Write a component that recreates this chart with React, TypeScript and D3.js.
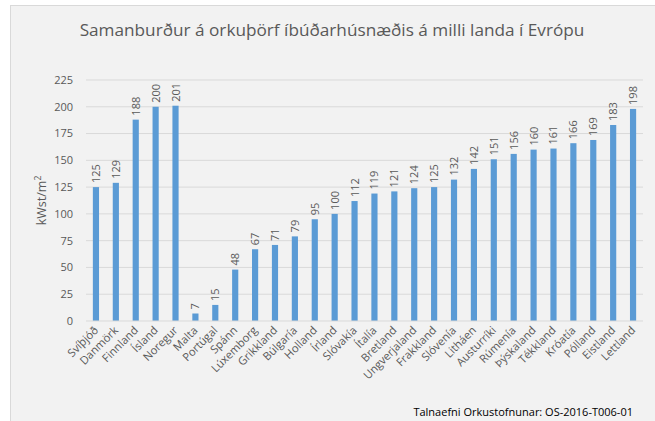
import React from "react";
import * as d3 from "d3";

const countries = ["Svíþjóð","Danmörk","Finnland","Ísland","Noregur","Malta","Portúgal","Spánn","Lúxemborg","Grikkland","Búlgaría","Holland","Írland","Slóvakía","Ítalía","Bretland","Ungverjaland","Frakkland","Slóvenía","Litháen","Austurríki","Rúmenía","Þýskaland","Tékkland","Króatía","Pólland","Eistland","Lettland"];
const values = [125,129,188,200,201,7,15,48,67,71,79,95,100,112,119,121,124,125,132,142,151,156,160,161,166,169,183,198];
const yTicks = [0,25,50,75,100,125,150,175,200,225];
const title = "Samanburður á orkuþörf íbúðarhúsnæðis á milli landa í Evrópu";
const yLabel = "kWst/m";
const source = "Talnaefni Orkustofnunar: OS-2016-T006-01";

export default function App() {
  const W = 655, H = 421;
  const left = 86, right = 643, top = 80, bottom = 321;
  const x = d3.scaleBand<string>().domain(countries).range([left, right]).paddingInner(0.69).paddingOuter(0.345);
  const y = d3.scaleLinear().domain([0, 225]).range([bottom, top]);
  const font = "'Open Sans', 'Noto Sans', sans-serif";
  const txt = "#595959";
  return (
    <svg width={W} height={H} style={{ position: "absolute", left: 0, top: 0 }} fontFamily={font}>
      <rect x={0} y={0} width={W} height={H} fill="#ffffff" />
      <rect x={10.5} y={5.5} width={W} height={H} fill="#f2f2f2" stroke="#d9d9d9" />
      <text x={332} y={36} textAnchor="middle" fontSize={17.2} fill={txt}>{title}</text>
      {yTicks.map(t => (
        <g key={t}>
          {t > 0 && <line x1={left} x2={right} y1={y(t)} y2={y(t)} stroke="#d9d9d9" strokeWidth={1} />}
          <text x={73} y={y(t)} dy="0.35em" textAnchor="end" fontSize={11} fill={txt}>{t}</text>
        </g>
      ))}
      <text transform={`translate(46,${(top + bottom) / 2}) rotate(-90)`} textAnchor="middle" fontSize={12.5} fill={txt}>
        {yLabel}<tspan dy="-5" fontSize={8.5}>2</tspan>
      </text>
      {countries.map((c, i) => {
        const bx = x(c)!;
        const cx = bx + x.bandwidth() / 2;
        return (
          <g key={c}>
            <rect x={bx} y={y(values[i])} width={x.bandwidth()} height={bottom - y(values[i])} fill="#5b9bd5" />
            <text transform={`translate(${cx + 4},${y(values[i]) - 4}) rotate(-90)`} fontSize={11} fill={txt}>{values[i]}</text>
            <text transform={`translate(${cx + 3},${bottom + 10}) rotate(-45)`} textAnchor="end" fontSize={11.2} fill={txt}>{c}</text>
          </g>
        );
      })}
      <line x1={left} x2={right} y1={bottom} y2={bottom} stroke="#d9d9d9" strokeWidth={1} />
      <text x={633} y={416} textAnchor="end" fontSize={11} fill="#000">{source}</text>
    </svg>
  );
}
